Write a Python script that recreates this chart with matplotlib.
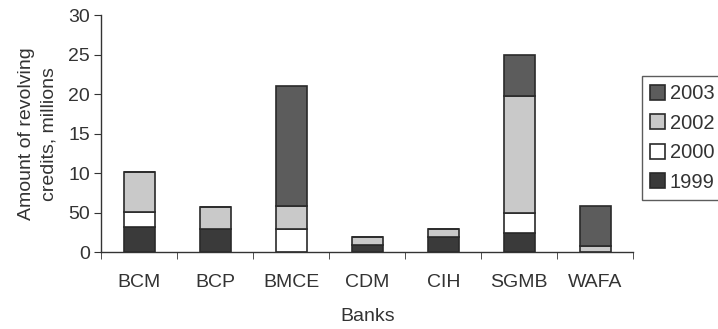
import matplotlib
matplotlib.use("Agg")
import matplotlib.pyplot as plt
import numpy as np

plt.rcParams["font.family"] = ["Liberation Sans", "DejaVu Sans"]

banks = ["BCM", "BCP", "BMCE", "CDM", "CIH", "SGMB", "WAFA"]
y1999 = [3.2, 2.9, 0.0, 0.9, 1.9, 2.4, 0.0]
y2000 = [1.9, 0.0, 2.9, 0.0, 0.0, 2.5, 0.0]
y2002 = [5.0, 2.8, 2.9, 1.0, 1.0, 14.8, 0.7]
y2003 = [0.0, 0.0, 15.2, 0.0, 0.0, 5.2, 5.1]
ytick_values = [0, 5, 10, 15, 20, 25, 30]
ytick_labels = ["0", "50", "10", "15", "20", "25", "30"]

text_color = "#333333"
fs = 14
series = [
    ("1999", y1999, "#3a3a3a"),
    ("2000", y2000, "#ffffff"),
    ("2002", y2002, "#c9c9c9"),
    ("2003", y2003, "#5c5c5c"),
]

fig = plt.figure(figsize=(7.18, 3.29), dpi=100)
ax = fig.add_axes([0.141, 0.234, 0.741, 0.72])

x = np.arange(len(banks))
bottom = np.zeros(len(banks))
handles = []
for label, values, color in series:
    vals = np.array(values)
    bars = ax.bar(x, vals, width=0.41, bottom=bottom, color=color,
                  edgecolor="#2a2a2a", linewidth=1.2, label=label)
    handles.append(bars)
    bottom += vals

ax.set_xlim(-0.5, len(banks) - 0.5)
ax.set_ylim(0, 30)
ax.set_yticks(ytick_values)
ax.set_yticklabels(ytick_labels)
ax.set_xticks(x)
ax.set_xticklabels(banks)
ax.set_xticks(np.arange(len(banks) + 1) - 0.5, minor=True)
ax.tick_params(axis="x", which="major", length=0, pad=16)
ax.tick_params(axis="x", which="minor", length=5, direction="out", color=text_color)
ax.tick_params(axis="y", length=5, direction="out", color=text_color, pad=3)
ax.tick_params(labelsize=fs, labelcolor=text_color)

for side in ["top", "right"]:
    ax.spines[side].set_visible(False)
for side in ["left", "bottom"]:
    ax.spines[side].set_color(text_color)
    ax.spines[side].set_linewidth(1.0)

ax.set_xlabel("Banks", fontsize=fs, color=text_color, labelpad=12)
ax.set_ylabel("Amount of revolving\ncredits, millions", fontsize=fs,
              color=text_color, labelpad=8, linespacing=1.4)

leg = ax.legend(handles[::-1], [s[0] for s in series][::-1],
                loc="upper left", bbox_to_anchor=(1.0, 0.78), frameon=True,
                fancybox=False, edgecolor="#333333", fontsize=fs + 0.5,
                handlelength=0.75, handleheight=0.75, handletextpad=0.2,
                labelspacing=0.52, borderpad=0.4, borderaxespad=0.45)
for t in leg.get_texts():
    t.set_color(text_color)
leg.get_frame().set_linewidth(1.0)

fig.savefig("out.png", dpi=100)
